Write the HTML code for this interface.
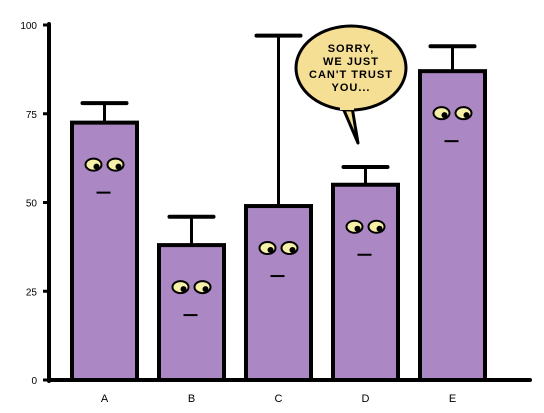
<!DOCTYPE html>
<html><head><meta charset="utf-8"><style>
html,body{margin:0;padding:0;background:#fff;width:544px;height:413px;overflow:hidden}
svg text{font-family:"Liberation Sans",sans-serif}
</style></head><body>
<svg id="c" width="544" height="413" viewBox="0 0 544 413">
<g id="axes"></g><g id="bars"></g>
<g>
<path d="M352,107 L358,143 L343,108" fill="#f5df95" stroke="#000" stroke-width="3" stroke-linejoin="round"/>
<ellipse cx="351" cy="68" rx="55" ry="42" fill="#f5df95" stroke="#000" stroke-width="3"/>
<rect x="340" y="104" width="14" height="6" fill="#f5df95"/>
<text x="351" y="52" text-anchor="middle" font-size="11" font-weight="bold" letter-spacing="1">SORRY,</text>
<text x="351" y="65" text-anchor="middle" font-size="11" font-weight="bold" letter-spacing="1">WE JUST</text>
<text x="351" y="78" text-anchor="middle" font-size="11" font-weight="bold" letter-spacing="1">CAN'T TRUST</text>
<text x="351" y="91" text-anchor="middle" font-size="11" font-weight="bold" letter-spacing="1">YOU...</text>
</g>
</svg>
<script>
const categories=["A","B","C","D","E"];
const values=[72.5,38,49,55,87];
const errTops=[78,46,97,60,94];
const ticks=[0,25,50,75,100];
const NS="http://www.w3.org/2000/svg";
const y=v=>380-v*3.55;
const x=i=>72+i*87;
const bw=65;
function mk(t,a,p){const e=document.createElementNS(NS,t);for(const k in a)e.setAttribute(k,a[k]);p.appendChild(e);return e;}
const ax=document.getElementById('axes'),bg=document.getElementById('bars');
let yl=mk('line',{x1:49,y1:24,x2:49,y2:381,stroke:'#000','stroke-width':4,'stroke-linecap':'round'},ax);


let xl=mk('line',{x1:49,y1:380,x2:530,y2:380,stroke:'#000','stroke-width':4,'stroke-linecap':'round'},ax);


ticks.forEach(t=>{
 mk('line',{x1:43,y1:y(t),x2:49,y2:y(t),stroke:'#000','stroke-width':3},ax);
 const tx=mk('text',{x:37,y:y(t)+4,'text-anchor':'end','font-size':10},ax);
 tx.textContent=t;
 
 
});
categories.forEach((c,i)=>{
 const cx=x(i)+bw/2;
 const eb=mk('g',{},bg);
 
 
 mk('line',{x1:cx,y1:y(values[i]),x2:cx,y2:y(errTops[i]),stroke:'#000','stroke-width':3},eb);
 mk('line',{x1:cx-22,y1:y(errTops[i]),x2:cx+22,y2:y(errTops[i]),stroke:'#000','stroke-width':4,'stroke-linecap':'round'},eb);
 const r=mk('rect',{x:x(i),y:y(values[i]),width:bw,height:380-y(values[i]),fill:'#ab87c3',stroke:'#000','stroke-width':4},bg);
 
 
 const top=y(values[i]);
 // simple face
 mk('ellipse',{cx:cx-11,cy:top+42,rx:8,ry:6,fill:'#f5efa8',stroke:'#000','stroke-width':2},bg);
 mk('ellipse',{cx:cx+11,cy:top+42,rx:8,ry:6,fill:'#f5efa8',stroke:'#000','stroke-width':2},bg);
 mk('circle',{cx:cx-8,cy:top+44,r:3,fill:'#000'},bg);
 mk('circle',{cx:cx+14,cy:top+44,r:3,fill:'#000'},bg);
 mk('line',{x1:cx-8,y1:top+70,x2:cx+6,y2:top+70,stroke:'#000','stroke-width':2},bg);
 const lt=mk('text',{x:cx,y:402,'text-anchor':'middle','font-size':11},bg);
 lt.textContent=c;
 
 
});
</script>
</body></html>
